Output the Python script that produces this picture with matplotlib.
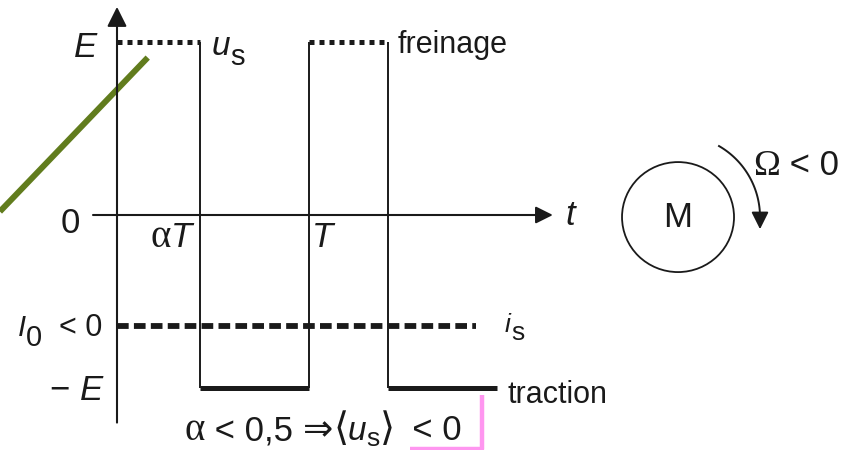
import numpy as np
import matplotlib.pyplot as plt
from matplotlib.patches import Ellipse
from matplotlib.transforms import IdentityTransform

plt.rcParams['font.family'] = ['Liberation Sans', 'DejaVu Sans']

# chopper output voltage u_s and current i_s
# time in units of T, levels in units of E
t_switch = [0.43, 1.0, 1.41, 1.98]   # aT, T, T + aT, end of the trace
E = 1.0
I0 = -0.64
i_end = 1.87

# hand-drawn marks on the original picture
green_t = [-0.61, 0.16]
green_u = [0.02, 0.91]
pink_t = [1.526, 1.901, 1.901]
pink_u = [-1.353, -1.353, -1.040]

# motor symbol
motor_t, motor_u = 2.922, -0.012

INK = '#1a1a1a'
SANS = ['Liberation Sans', 'DejaVu Sans']
SERIF = ['Liberation Serif', 'DejaVu Serif']
IT = dict(style='italic')

fig = plt.figure(figsize=(8.46, 4.5), dpi=100)
ax = fig.add_axes([0, 0, 1, 1])
# 1 T = 192 px, 1 E = 173 px, origin at (117, 215) px
ax.set_xlim(-117 / 192, (846 - 117) / 192)
ax.set_ylim((215 - 450) / 173, 215 / 173)
ax.axis('off')


def rich(x, y, parts, ha='left'):
    """Write pieces of text one after the other, baseline at (x, y).
    dy (px) moves a piece down, for subscripts."""
    r = fig.canvas.get_renderer()
    x0, y0 = ax.transData.transform((x, y))
    arts, cur = [], x0
    for s, size, kw, dy in parts:
        kw = dict(kw)
        kw.setdefault('family', SANS)
        a = ax.text(cur, y0 - dy, s, transform=IdentityTransform(),
                    fontsize=size, va='baseline', ha='left', color=INK, **kw)
        cur += a.get_window_extent(r).width
        arts.append(a)
    if ha == 'right':
        for a in arts:
            px, py = a.get_position()
            a.set_position((px - (cur - x0), py))


# axes with arrows
ax.annotate('', xy=(0, 1.203), xytext=(0, -1.20),
            arrowprops=dict(arrowstyle='-|>', lw=1.5, color=INK,
                            mutation_scale=30, shrinkA=0, shrinkB=0))
ax.annotate('', xy=(2.27, 0), xytext=(-0.125, 0),
            arrowprops=dict(arrowstyle='-|>', lw=1.5, color=INK,
                            mutation_scale=26, shrinkA=0, shrinkB=0))

# u_s: +E dotted, -E thick, thin edges
a, T, b, end = t_switch
ax.plot([0, a], [E, E], color=INK, lw=3.6, dashes=(1, 1), solid_capstyle='butt')
ax.plot([T, b], [E, E], color=INK, lw=3.6, dashes=(1, 1), solid_capstyle='butt')
ax.plot([a, T], [-E, -E], color=INK, lw=3.6, solid_capstyle='butt')
ax.plot([b, end], [-E, -E], color=INK, lw=3.6, solid_capstyle='butt')
ax.vlines([a, T, b], -E, E, color=INK, lw=1.4)

# i_s = I0 dashed
ax.plot([0, i_end], [I0, I0], color=INK, lw=4.2, dashes=(2.0, 0.9))

# annotations drawn over the figure
ax.plot(green_t, green_u, color='#617c1d', lw=4.3, solid_capstyle='butt')
ax.plot(pink_t, pink_u, color='#ff96f0', lw=3.2, solid_capstyle='butt')

# motor
ax.add_patch(Ellipse((motor_t, motor_u), 112 / 192, 110 / 173,
                     fill=False, lw=1.3, ec=INK))
ax.text(motor_t, motor_u, 'M', fontsize=25, ha='center', va='center', color=INK)
ang = np.radians(np.linspace(60, 0, 50))
ax.plot(motor_t + 0.427 * np.cos(ang), motor_u + 0.474 * np.sin(ang), color=INK, lw=1.4)
ax.annotate('', xy=(motor_t + 0.427, motor_u - 0.07), xytext=(motor_t + 0.427, motor_u + 0.01),
            arrowprops=dict(arrowstyle='-|>', lw=1.4, color=INK,
                            mutation_scale=26, shrinkA=0, shrinkB=0))

# labels
rich(-0.104, 0.913, [('E', 25, IT, 0)], ha='right')
rich(0.495, 0.925, [('u', 24, IT, 0), ('s', 21, {}, 10)])
rich(1.464, 0.936, [('freinage', 22, {}, 0)])
rich(-0.193, -0.104, [('0', 25, {}, 0)], ha='right')
rich(0.391, -0.185, [('α', 28, dict(family=SERIF), 0), ('T', 25, IT, 0)], ha='right')
rich(1.016, -0.185, [('T', 25, IT, 0)])
rich(2.333, -0.058, [('t', 25, IT, 0)])
rich(-0.516, -0.699, [('I', 21, IT, 0), ('0', 21, {}, 10), ('  < 0', 22, {}, 0)])
rich(-0.073, -1.069, [('− ', 25, {}, 0), ('E', 25, IT, 0)], ha='right')
rich(2.021, -0.676, [('i', 19, IT, 0), ('s', 19, {}, 8)])
rich(2.036, -1.087, [('traction', 22, {}, 0)])
rich(0.354, -1.301, [('α', 28, dict(family=SERIF), 0), (' < 0,5 ', 25, {}, 0),
                     ('⇒', 26, dict(family=['DejaVu Sans']), 0),
                     (r'$\langle$', 28, {}, 0), ('u', 24, IT, 0), ('s', 19, {}, 6),
                     (r'$\rangle$', 28, {}, 0), ('  < 0', 25, {}, 0)])
rich(3.313, 0.231, [('Ω', 26, dict(family=SERIF), 0), (' < 0', 25, {}, 0)])

fig.savefig('out.png', dpi=100)
